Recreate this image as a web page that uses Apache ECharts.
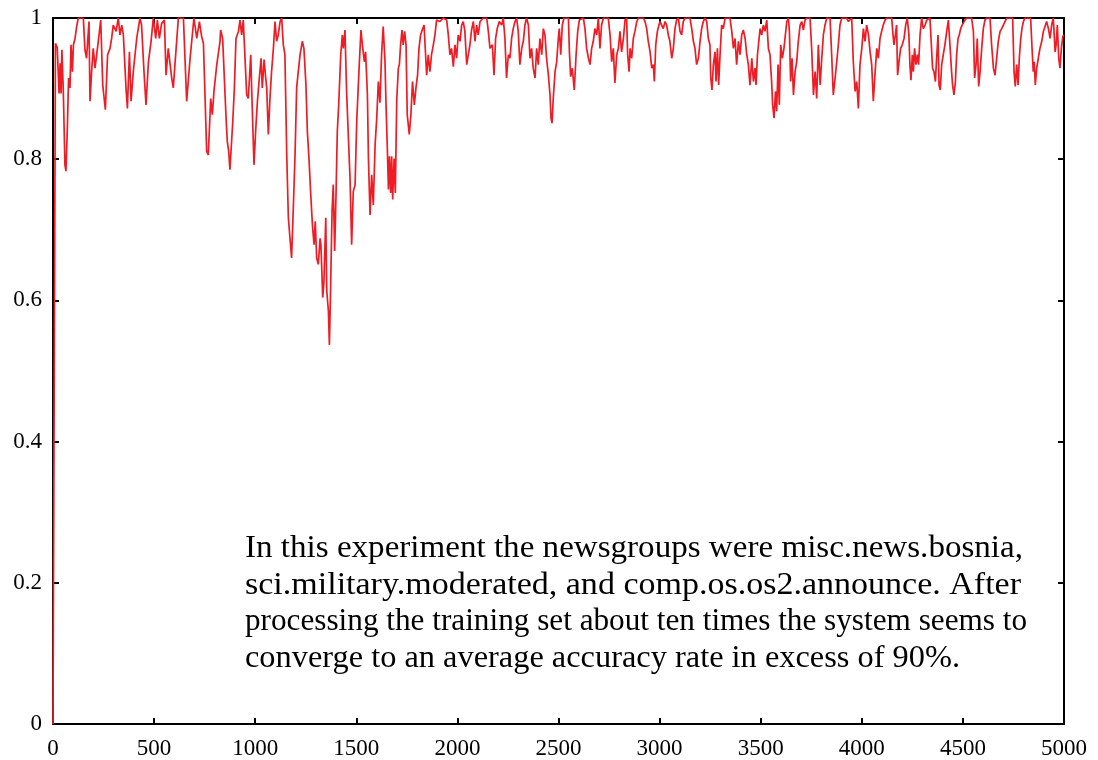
<!DOCTYPE html>
<html>
<head>
<meta charset="utf-8">
<script src="https://cdn.jsdelivr.net/npm/echarts@6/dist/echarts.min.js"></script>
<style>
html,body{margin:0;padding:0;background:#fff;}
#chart{width:1098px;height:760px;}
</style>
</head>
<body>
<div id="chart"></div>
<script>
// [iteration, accuracy] samples
const run0to1000 = [[0,0],[12,0.964],[21,0.958],[30,0.893],[35,0.936],[40,0.893],[44,0.955],[51,0.896],[59,0.792],[64,0.783],[71,0.844],[77,0.915],[84,0.901],[89,0.962],[96,0.924],[101,0.962],[109,0.971],[117,0.988],[125,1],[150,1],[158,0.955],[166,0.943],[178,0.995],[183,0.882],[191,0.924],[199,0.957],[208,0.929],[216,0.948],[224,0.967],[236,0.997],[246,0.905],[259,0.870],[270,0.948],[282,0.957],[290,0.971],[298,0.990],[312,0.981],[323,1],[331,0.976],[340,0.990],[348,0.976],[361,0.901],[368,0.872],[378,0.952],[386,0.882],[397,0.924],[414,0.971],[430,1],[438,0.990],[450,0.924],[460,0.877],[472,0.938],[485,0.967],[496,1],[508,0.971],[516,0.997],[526,0.971],[537,0.992],[551,0.997],[559,0.919],[570,0.957],[587,0.915],[595,0.901],[603,0.934],[620,1],[645,1],[661,0.882],[678,0.943],[697,1],[711,0.971],[724,0.995],[735,0.974],[744,0.964],[760,0.811],[768,0.806],[780,0.886],[788,0.863],[796,0.896],[810,0.934],[826,0.967],[829,0.983],[839,0.971],[846,0.924],[856,0.858],[862,0.825],[869,0.811],[875,0.785],[882,0.783],[889,0.853],[897,0.901],[905,0.971],[917,0.981],[925,0.997],[933,0.976],[941,0.997],[950,0.995],[958,0.891],[966,0.886],[978,0.948],[983,0.896],[987,0.858],[994,0.792]];
const run1000to2000 = [[1002,0.839],[1011,0.882],[1019,0.910],[1029,0.943],[1035,0.901],[1044,0.941],[1052,0.915],[1057,0.901],[1065,0.835],[1073,0.886],[1081,0.924],[1090,0.957],[1098,0.995],[1106,0.967],[1114,0.976],[1123,0.995],[1131,1],[1139,0.962],[1147,0.948],[1156,0.806],[1164,0.717],[1172,0.688],[1180,0.660],[1189,0.735],[1197,0.806],[1205,0.901],[1213,0.924],[1222,0.948],[1233,0.967],[1241,0.957],[1251,0.905],[1258,0.839],[1266,0.801],[1274,0.754],[1283,0.707],[1291,0.679],[1297,0.712],[1304,0.660],[1312,0.651],[1321,0.688],[1325,0.679],[1334,0.604],[1340,0.627],[1349,0.717],[1354,0.613],[1362,0.585],[1367,0.537],[1373,0.618],[1380,0.726],[1386,0.764],[1393,0.670],[1400,0.754],[1406,0.839],[1413,0.877],[1423,0.948],[1431,0.976],[1436,0.957],[1444,0.983],[1452,0.896],[1461,0.830],[1469,0.773],[1477,0.679],[1485,0.754],[1494,0.764],[1502,0.853],[1513,0.924],[1523,0.983],[1532,0.957],[1540,0.938],[1546,0.952],[1555,0.891],[1560,0.801],[1568,0.721],[1576,0.778],[1584,0.735],[1593,0.820],[1601,0.858],[1609,0.910],[1617,0.880],[1625,0.948],[1633,0.988],[1642,0.938],[1647,0.877],[1653,0.820],[1659,0.757],[1664,0.804],[1670,0.752],[1675,0.804],[1680,0.743],[1687,0.801],[1693,0.752],[1700,0.884],[1708,0.929],[1713,0.934],[1719,0.962],[1726,0.983],[1732,0.962],[1739,0.981],[1746,0.962],[1752,0.863],[1762,0.835],[1770,0.863],[1778,0.910],[1787,0.877],[1795,0.901],[1803,0.919],[1810,0.957],[1818,0.976],[1826,0.983],[1835,0.990],[1843,0.990],[1848,0.919],[1856,0.948],[1864,0.924],[1872,0.948],[1881,0.962],[1889,0.976],[1897,0.997],[1914,0.995],[1930,1],[1947,0.997],[1955,0.976],[1963,0.948],[1971,0.957],[1980,0.931],[1988,0.962],[1996,0.943]];
const run2000to3000 = [[2004,0.976],[2013,0.967],[2021,0.990],[2029,0.995],[2037,0.981],[2046,0.934],[2054,0.948],[2062,0.962],[2070,0.983],[2079,0.995],[2087,0.967],[2095,0.990],[2103,0.976],[2112,0.995],[2128,1],[2145,1],[2153,0.981],[2161,0.957],[2173,0.962],[2181,0.919],[2189,0.971],[2197,0.985],[2207,0.995],[2219,0.990],[2227,1],[2235,0.971],[2243,0.915],[2252,0.948],[2260,0.943],[2268,0.971],[2276,0.985],[2285,0.995],[2293,1],[2301,0.981],[2309,0.934],[2318,0.957],[2326,0.967],[2334,0.990],[2342,1],[2351,0.990],[2359,0.943],[2367,0.957],[2375,0.929],[2384,0.915],[2392,0.957],[2400,0.934],[2408,0.971],[2417,0.948],[2425,0.985],[2433,0.976],[2441,0.943],[2450,0.919],[2458,0.891],[2463,0.858],[2468,0.851],[2474,0.886],[2483,0.924],[2491,0.938],[2499,0.971],[2504,0.985],[2511,0.948],[2519,0.990],[2527,1],[2549,1],[2554,0.952],[2560,0.917],[2568,0.929],[2578,0.898],[2587,0.948],[2595,0.981],[2603,0.997],[2623,1],[2631,0.985],[2639,0.957],[2648,0.943],[2656,0.934],[2664,0.957],[2672,0.967],[2680,0.985],[2689,0.976],[2697,1],[2705,0.957],[2713,0.990],[2722,1],[2746,1],[2755,0.976],[2763,0.938],[2771,0.957],[2779,0.908],[2788,0.948],[2796,0.957],[2804,0.981],[2812,0.952],[2821,0.971],[2829,0.997],[2837,1],[2842,0.948],[2849,0.924],[2854,0.957],[2862,0.943],[2870,0.971],[2878,0.981],[2887,0.995],[2895,1],[2920,1],[2928,0.995],[2936,0.985],[2944,0.967],[2953,0.952],[2961,0.929],[2969,0.934],[2974,0.910],[2981,0.962],[2989,0.981],[2997,0.990]];
const run3000to4000 = [[3002,0.995],[3010,0.997],[3018,0.985],[3027,0.995],[3035,0.990],[3043,0.976],[3051,0.967],[3060,0.943],[3068,0.957],[3076,0.985],[3084,0.997],[3093,1],[3101,0.981],[3109,0.976],[3117,0.995],[3126,1],[3150,1],[3159,0.985],[3167,0.967],[3175,0.957],[3183,0.934],[3192,0.943],[3200,0.967],[3208,0.985],[3216,0.995],[3225,1],[3233,0.995],[3241,0.971],[3249,0.962],[3253,0.915],[3259,0.898],[3266,0.934],[3274,0.952],[3279,0.910],[3286,0.957],[3292,0.905],[3299,0.948],[3307,0.990],[3315,0.985],[3324,1],[3348,1],[3357,0.981],[3365,0.957],[3373,0.971],[3381,0.934],[3390,0.967],[3398,0.948],[3406,0.976],[3414,0.983],[3423,0.971],[3431,0.948],[3439,0.934],[3447,0.905],[3456,0.943],[3464,0.910],[3472,0.929],[3477,0.905],[3484,0.948],[3492,0.971],[3497,0.985],[3505,0.976],[3513,0.990],[3521,0.981],[3530,0.997],[3538,0.957],[3546,0.948],[3554,0.910],[3559,0.877],[3566,0.858],[3573,0.896],[3579,0.868],[3586,0.934],[3592,0.877],[3599,0.962],[3607,0.943],[3615,0.957],[3622,0.976],[3629,0.995],[3637,1],[3642,0.981],[3648,0.910],[3655,0.943],[3662,0.891],[3670,0.924],[3678,0.938],[3686,0.967],[3695,0.990],[3703,0.995],[3711,0.983],[3719,0.997],[3728,1],[3744,1],[3752,0.957],[3761,0.891],[3769,0.924],[3777,0.886],[3785,0.962],[3794,0.905],[3802,0.943],[3810,0.976],[3818,0.990],[3827,1],[3843,1],[3851,0.948],[3859,0.891],[3868,0.915],[3876,0.938],[3884,0.962],[3892,0.990],[3901,1],[3925,1],[3934,0.995],[3950,1],[3958,0.938],[3967,0.896],[3975,0.910],[3983,0.872],[3991,0.934]];
const run4000to5000 = [[4000,0.957],[4008,0.985],[4016,0.967],[4024,0.990],[4033,0.976],[4041,0.952],[4049,0.934],[4057,0.882],[4066,0.924],[4074,0.957],[4082,0.943],[4090,0.971],[4098,0.981],[4106,0.990],[4115,0.997],[4123,1],[4148,1],[4153,0.981],[4159,0.962],[4166,0.976],[4172,0.990],[4177,0.919],[4184,0.938],[4192,0.957],[4200,0.962],[4209,0.971],[4217,0.990],[4225,1],[4233,0.976],[4238,0.934],[4243,0.912],[4250,0.948],[4255,0.924],[4261,0.957],[4268,0.934],[4275,0.948],[4281,0.934],[4288,0.976],[4296,1],[4304,0.985],[4313,0.990],[4321,0.997],[4329,0.995],[4337,1],[4346,1],[4350,0.929],[4357,0.924],[4364,0.910],[4370,0.943],[4377,0.976],[4382,0.905],[4388,0.898],[4395,0.934],[4403,0.948],[4411,0.962],[4420,0.981],[4428,0.997],[4436,0.962],[4444,0.924],[4449,0.905],[4456,0.891],[4463,0.910],[4469,0.948],[4476,0.971],[4482,0.976],[4489,0.985],[4496,0.990],[4502,0.988],[4510,0.997],[4519,1],[4543,1],[4552,0.981],[4558,0.915],[4565,0.934],[4571,0.971],[4578,0.903],[4585,0.924],[4593,0.957],[4601,0.985],[4609,0.997],[4618,1],[4634,1],[4642,0.962],[4651,0.929],[4659,0.919],[4667,0.943],[4675,0.967],[4684,0.981],[4692,0.985],[4700,0.990],[4708,0.995],[4717,1],[4746,1],[4753,0.924],[4759,0.903],[4766,0.934],[4773,0.905],[4779,0.943],[4786,0.971],[4792,0.985],[4799,0.995],[4807,1],[4835,1],[4842,0.957],[4848,0.924],[4853,0.938],[4858,0.905],[4865,0.929],[4873,0.943],[4881,0.957],[4890,0.967],[4898,0.981],[4906,0.981],[4914,0.995],[4923,0.985],[4931,0.971],[4939,0.990],[4947,1],[4956,0.952],[4961,0.962],[4967,0.990],[4974,0.943],[4980,0.929],[4987,0.957],[4994,0.974],[5000,0.976]];

const noteLines = [
  'In this experiment the newsgroups were misc.news.bosnia,',
  'sci.military.moderated, and comp.os.os2.announce. After',
  'processing the training set about ten times the system seems to',
  'converge to an average accuracy rate in excess of 90%.'
];

const FONT = '"Liberation Serif", "Times New Roman", serif';
const accuracyTrace = [].concat(run0to1000, run1000to2000, run2000to3000, run3000to4000, run4000to5000);

// note text: each line stretched to the width it has in the reference
const noteFontSize = 32.5;
const noteFont = noteFontSize + 'px ' + FONT;
const measure = document.createElement('canvas').getContext('2d');
measure.font = noteFont;
const noteLeft = 245, noteBase = 559.5, noteLeading = 36.7;
const noteLineEnds = [1023, 1021, 1027, 960];
const noteElements = noteLines.map(function (line, i) {
  const natural = measure.measureText(line).width;
  return {
    type: 'text', x: noteLeft, y: noteBase + i * noteLeading - 0.3375 * noteFontSize, silent: true,
    scaleX: (noteLineEnds[i] - noteLeft) / natural, originX: 0,
    style: { text: line, font: noteFont, fill: '#000', verticalAlign: 'middle', align: 'left' }
  };
});

const axisLine = { show: true, onZero: false, lineStyle: { color: '#000', width: 2 } };
const axisTick = { show: true, inside: true, length: 6, lineStyle: { color: '#000', width: 2 } };
const labelStyle = { color: '#000', fontFamily: FONT, fontSize: 23 };

const chart = echarts.init(document.getElementById('chart'), null, { renderer: 'canvas' });
chart.setOption({
  animation: false,
  backgroundColor: '#fff',
  grid: { left: 53, right: 34, top: 18, bottom: 35, containLabel: false },
  xAxis: [
    { type: 'value', position: 'bottom', min: 0, max: 5000, interval: 500,
      axisLine: axisLine, axisTick: axisTick, splitLine: { show: false },
      axisLabel: Object.assign({ margin: 13, formatter: function (v) { return String(v); } }, labelStyle) },
    { type: 'value', position: 'top', min: 0, max: 5000, interval: 500,
      axisLine: axisLine, axisTick: axisTick, splitLine: { show: false }, axisLabel: { show: false } }
  ],
  yAxis: [
    { type: 'value', position: 'left', min: 0, max: 1, interval: 0.2,
      axisLine: axisLine, axisTick: axisTick, splitLine: { show: false },
      axisLabel: Object.assign({ margin: 11, formatter: function (v) { return String(v); } }, labelStyle) },
    { type: 'value', position: 'right', min: 0, max: 1, interval: 0.2,
      axisLine: axisLine, axisTick: axisTick, splitLine: { show: false }, axisLabel: { show: false } }
  ],
  series: [{
    type: 'line', xAxisIndex: 0, yAxisIndex: 0, data: accuracyTrace,
    showSymbol: false, symbol: 'none', sampling: null, smooth: false,
    lineStyle: { color: '#ee1c24', width: 1.7 }, z: 1
  }],
  graphic: noteElements
});
</script>
</body>
</html>
